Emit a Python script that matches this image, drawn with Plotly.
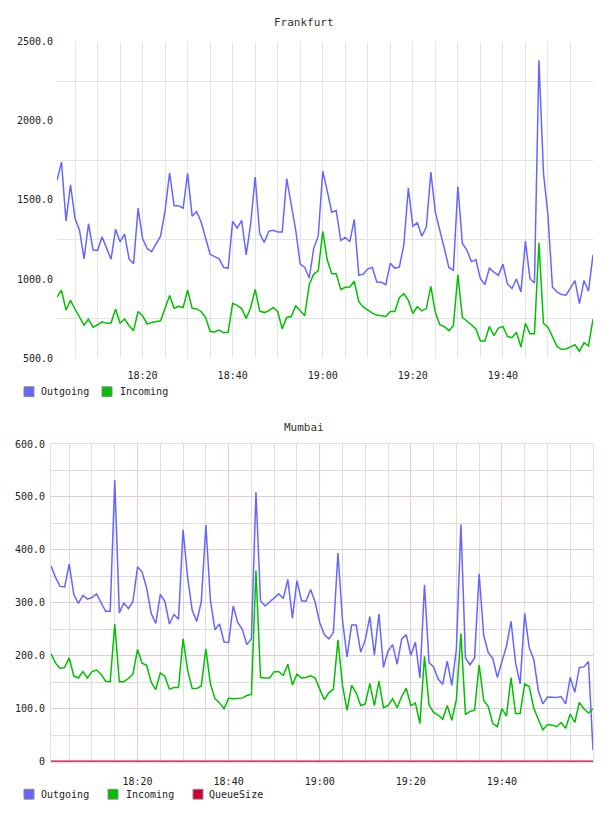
import pandas as pd
import plotly.graph_objects as go

# ---------------- data ----------------
times = pd.date_range("2024-01-01 18:01", periods=120, freq="min")

fra_outgoing = [
    1623, 1738, 1366, 1594, 1384, 1308, 1127, 1349, 1183, 1181,
    1266, 1193, 1125, 1314, 1235, 1283, 1127, 1096, 1447, 1256,
    1193, 1173, 1224, 1270, 1432, 1671, 1463, 1463, 1447, 1667,
    1397, 1426, 1360, 1256, 1156, 1141, 1127, 1073, 1069, 1364,
    1322, 1370, 1152, 1349, 1644, 1287, 1231, 1301, 1308, 1297,
    1297, 1634, 1474, 1308, 1094, 1073, 1006, 1193, 1272, 1681,
    1557, 1422, 1432, 1243, 1262, 1235, 1376, 1023, 1031, 1064,
    1073, 981, 979, 965, 1100, 1069, 1075, 1214, 1575, 1334,
    1355, 1270, 1328, 1675, 1422, 1297, 1193, 1073, 1056, 1584,
    1224, 1183, 1110, 1121, 1002, 965, 1069, 1044, 1023, 1094,
    969, 940, 1000, 919, 1239, 1002, 975, 2381, 1671, 1401,
    948, 919, 902, 898, 944, 990, 844, 990, 923, 1152,
]
fra_incoming = [
    886, 930, 803, 865, 809, 757, 709, 747, 695, 711,
    730, 720, 722, 809, 722, 747, 705, 674, 795, 768,
    716, 726, 732, 736, 815, 896, 815, 828, 820, 930,
    815, 811, 795, 757, 668, 666, 678, 660, 664, 847,
    834, 813, 751, 820, 934, 799, 788, 799, 820, 795,
    685, 757, 763, 830, 799, 768, 965, 1031, 1052, 1301,
    1121, 1033, 1033, 934, 948, 950, 986, 857, 824, 803,
    784, 772, 768, 763, 795, 795, 882, 907, 865, 782,
    826, 799, 813, 954, 788, 711, 699, 674, 705, 1027,
    757, 736, 711, 684, 608, 608, 701, 643, 690, 701,
    637, 629, 664, 571, 720, 654, 654, 1229, 720, 695,
    633, 575, 556, 558, 571, 585, 544, 598, 577, 747,
]

mum_outgoing = [
    370, 348, 331, 330, 373, 316, 299, 314, 307, 310,
    317, 301, 284, 284, 532, 281, 300, 289, 303, 368,
    358, 328, 280, 261, 316, 303, 260, 278, 269, 438,
    348, 286, 265, 302, 447, 305, 249, 260, 226, 225,
    294, 263, 250, 221, 232, 509, 304, 294, 302, 310,
    317, 308, 344, 271, 342, 304, 303, 325, 301, 263,
    240, 232, 244, 394, 267, 198, 258, 258, 207, 230,
    274, 201, 279, 178, 209, 221, 184, 232, 240, 201,
    226, 158, 334, 187, 179, 156, 146, 190, 144, 212,
    448, 196, 183, 196, 355, 239, 206, 195, 159, 189,
    218, 265, 187, 147, 280, 215, 193, 134, 109, 122,
    122, 121, 123, 109, 159, 131, 178, 179, 189, 22,
]
mum_incoming = [
    204, 186, 176, 178, 196, 162, 158, 170, 158, 170,
    173, 165, 152, 151, 260, 151, 151, 157, 166, 212,
    186, 182, 150, 136, 168, 161, 137, 140, 140, 232,
    173, 138, 138, 143, 213, 147, 119, 111, 100, 120,
    119, 119, 120, 125, 127, 361, 159, 158, 158, 170,
    170, 163, 184, 145, 165, 158, 159, 162, 158, 137,
    117, 130, 137, 230, 144, 97, 144, 130, 106, 109,
    148, 106, 152, 102, 106, 119, 102, 123, 139, 106,
    111, 72, 199, 107, 93, 88, 80, 106, 78, 117,
    242, 89, 95, 97, 183, 116, 104, 72, 66, 100,
    86, 159, 91, 91, 147, 142, 101, 80, 60, 70,
    69, 66, 74, 63, 90, 74, 112, 100, 92, 100,
]
mum_queuesize = [0] * 120
mum_queuesize[14] = 1
mum_queuesize[45] = 1
mum_queuesize[90] = 1

fra_yticks = [500, 1000, 1500, 2000, 2500]
fra_ytext = ["500.0", "1000.0", "1500.0", "2000.0", "2500.0"]
mum_yticks = [0, 100, 200, 300, 400, 500, 600]
mum_ytext = ["0", "100.0", "200.0", "300.0", "400.0", "500.0", "600.0"]

# ---------------- style ----------------
W, H = 608, 816
C_OUT = "#6666ff"
C_IN = "#00c000"
C_Q = "#cc0033"
FONT = "DejaVu Sans Mono"


def px(x):
    return x / W


def py(y):
    return 1 - y / H


fig = go.Figure()
fig.add_trace(go.Scatter(x=times, y=fra_outgoing, mode="lines", name="Outgoing",
                         line=dict(color=C_OUT, width=1.5), xaxis="x", yaxis="y"))
fig.add_trace(go.Scatter(x=times, y=fra_incoming, mode="lines", name="Incoming",
                         line=dict(color=C_IN, width=1.5), xaxis="x", yaxis="y"))
fig.add_trace(go.Scatter(x=times, y=mum_outgoing, mode="lines", name="Outgoing",
                         line=dict(color=C_OUT, width=1.5), xaxis="x2", yaxis="y2"))
fig.add_trace(go.Scatter(x=times, y=mum_incoming, mode="lines", name="Incoming",
                         line=dict(color=C_IN, width=1.5), xaxis="x2", yaxis="y2"))
fig.add_trace(go.Scatter(x=times, y=mum_queuesize, mode="lines", name="QueueSize",
                         line=dict(color=C_Q, width=2.5), xaxis="x2", yaxis="y2"))

tick_font = dict(family=FONT, size=10, color="#222222")
xr = [times[0], times[-1]]

common_x = dict(type="date", range=xr, tickformat="%H:%M", dtick=20 * 60 * 1000,
                tick0="2024-01-01 18:00", ticks="", tickfont=tick_font,
                zeroline=False, fixedrange=True, ticklabelstandoff=10,
                layer="below traces")

grid_top = "#e4e4e4"
grid_minor = "#dedede"
grid_major = "#e2c8e2"
border = "#e8d8ec"

fig.update_layout(
    width=W, height=H,
    margin=dict(l=0, r=0, t=0, b=0),
    paper_bgcolor="white", plot_bgcolor="white",
    showlegend=False,
    xaxis=dict(common_x, domain=[px(57), px(593)], anchor="y",
               showgrid=True, gridcolor=grid_top, gridwidth=1,
               minor=dict(dtick=5 * 60 * 1000, tick0="2024-01-01 18:00",
                          showgrid=True, gridcolor=grid_top, gridwidth=1),
               showline=False),
    yaxis=dict(domain=[py(358), py(37)], range=[500, 2500], anchor="x",
               tickvals=fra_yticks, ticktext=fra_ytext, ticks="", tickfont=tick_font,
               showgrid=False, zeroline=False, showline=False,
               minor=dict(tick0=250, dtick=500, showgrid=True, gridcolor=grid_top,
                          gridwidth=1),
               ticklabelstandoff=3, layer="below traces"),
    xaxis2=dict(common_x, domain=[px(51), px(593)], anchor="y2",
                showgrid=True, gridcolor=grid_major, gridwidth=1,
                minor=dict(dtick=5 * 60 * 1000, tick0="2024-01-01 18:00",
                           showgrid=True, gridcolor=grid_minor, gridwidth=1),
                showline=True, linecolor=border, linewidth=1, mirror=True),
    yaxis2=dict(domain=[py(767), py(445)], range=[0, 600], anchor="x2",
                tickvals=mum_yticks, ticktext=mum_ytext, ticks="", tickfont=tick_font,
                showgrid=True, gridcolor=grid_major, gridwidth=1, zeroline=False,
                minor=dict(tick0=0, dtick=50, showgrid=True, gridcolor=grid_minor,
                           gridwidth=1),
                showline=True, linecolor=border, linewidth=1, mirror=True,
                ticklabelstandoff=3, layer="below traces"),
)

# titles
title_font = dict(family=FONT, size=11, color="#333333")
fig.add_annotation(text="Frankfurt", x=px(304), y=py(18), xref="paper", yref="paper",
                   showarrow=False, font=title_font, xanchor="center", yanchor="middle")
fig.add_annotation(text="Mumbai", x=px(304), y=py(428), xref="paper", yref="paper",
                   showarrow=False, font=title_font, xanchor="center", yanchor="middle")

# legends (square swatches + labels)
legend_font = dict(family=FONT, size=10, color="#222222")
legends = [
    (392, [(24, 39, "Outgoing", C_OUT), (102, 118, "Incoming", C_IN)]),
    (800, [(24, 39, "Outgoing", C_OUT), (108, 124, "Incoming", C_IN),
           (193, 207, "QueueSize", C_Q)]),
]
for yc, items in legends:
    for sx, tx, label, col in items:
        fig.add_shape(type="rect", xref="paper", yref="paper",
                      x0=px(sx), x1=px(sx + 10), y0=py(yc + 5), y1=py(yc - 5),
                      fillcolor=col, line=dict(color="#888888", width=1))
        fig.add_annotation(text=label, x=px(tx), y=py(yc), xref="paper", yref="paper",
                           showarrow=False, font=legend_font, xanchor="left",
                           yanchor="middle")

fig.write_html("out.html")
